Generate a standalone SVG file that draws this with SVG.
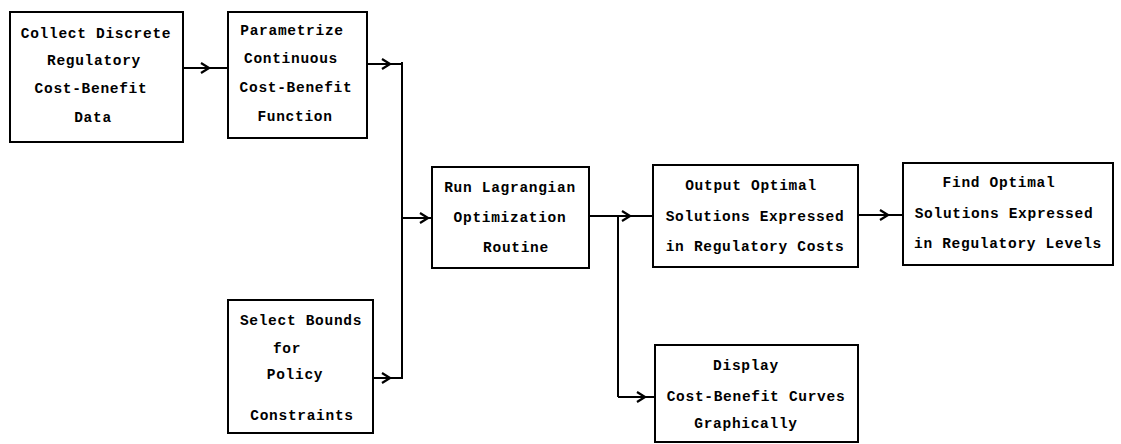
<svg xmlns="http://www.w3.org/2000/svg" width="1121" height="444" viewBox="0 0 1121 444">
<style>
.box{fill:#fff;stroke:#000;stroke-width:2}
.t{font-family:"Liberation Mono","DejaVu Sans Mono",monospace;font-weight:bold;font-size:14.5px;letter-spacing:0.7px;fill:#000;text-anchor:middle}
.c{fill:none;stroke:#000;stroke-width:2}
.m{marker-mid:url(#chev)}
</style>
<defs>
<marker id="chev" viewBox="0 0 10 12" refX="9" refY="6" markerWidth="10" markerHeight="12" markerUnits="userSpaceOnUse" orient="auto">
<path d="M1,1 L9,6 L1,11" fill="none" stroke="#000" stroke-width="2.2"/>
</marker>
</defs>
<rect width="1121" height="444" fill="#fff"/>
<g id="connectors">
<path class="c m" d="M183 68 H209 H228"/>
<path class="c m" d="M367 64 H390 H402"/>
<path class="c" d="M402 62 V379"/>
<path class="c m" d="M373 378 H390 H402"/>
<path class="c m" d="M402 218 H428 H432"/>
<path class="c m" d="M589 216 H630 H653"/>
<path class="c" d="M618 216 V397"/>
<path class="c m" d="M618 397 H645 H655"/>
<path class="c m" d="M858 215 H888 H903"/>
</g>
<g id="collect">
<rect class="box" x="10" y="12" width="173" height="130"/>
<text class="t" x="96" y="38">Collect Discrete</text>
<text class="t" x="94" y="65">Regulatory</text>
<text class="t" x="91" y="93">Cost-Benefit</text>
<text class="t" x="93" y="122">Data</text>
</g>
<g id="parametrize">
<rect class="box" x="228" y="12" width="139" height="126"/>
<text class="t" x="292" y="35">Parametrize</text>
<text class="t" x="291" y="63">Continuous</text>
<text class="t" x="296" y="92">Cost-Benefit</text>
<text class="t" x="295" y="121">Function</text>
</g>
<g id="bounds">
<rect class="box" x="228" y="300" width="145" height="133"/>
<text class="t" x="301" y="325">Select Bounds</text>
<text class="t" x="287" y="353">for</text>
<text class="t" x="295" y="379">Policy</text>
<text class="t" x="302" y="420">Constraints</text>
</g>
<g id="lagrangian">
<rect class="box" x="432" y="167" width="157" height="101"/>
<text class="t" x="510" y="192">Run Lagrangian</text>
<text class="t" x="510" y="222">Optimization</text>
<text class="t" x="516" y="252">Routine</text>
</g>
<g id="output">
<rect class="box" x="653" y="165" width="205" height="102"/>
<text class="t" x="751" y="190">Output Optimal</text>
<text class="t" x="755" y="221">Solutions Expressed</text>
<text class="t" x="755" y="251">in Regulatory Costs</text>
</g>
<g id="find">
<rect class="box" x="903" y="163" width="210" height="102"/>
<text class="t" x="999" y="187">Find Optimal</text>
<text class="t" x="1004" y="218">Solutions Expressed</text>
<text class="t" x="1008" y="248">in Regulatory Levels</text>
</g>
<g id="display">
<rect class="box" x="655" y="345" width="203" height="97"/>
<text class="t" x="746" y="370">Display</text>
<text class="t" x="756" y="401">Cost-Benefit Curves</text>
<text class="t" x="746" y="428">Graphically</text>
</g>
</svg>
